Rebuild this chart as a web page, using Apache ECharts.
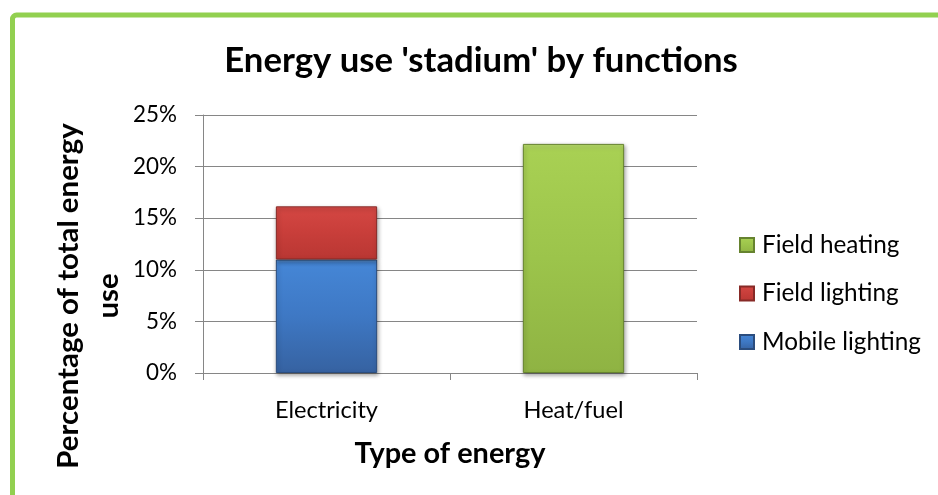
<!DOCTYPE html>
<html><head><meta charset="utf-8">
<script src="https://cdn.jsdelivr.net/npm/echarts@6/dist/echarts.min.js"></script>
<style>html,body{margin:0;padding:0;background:#fff}#c{width:938px;height:495px}</style>
</head><body><div id="c"></div>
<script>
// ---- data ----
const categories = ['Electricity', 'Heat/fuel'];
const mobileLighting = [11.0, null];
const fieldLighting = [5.15, null];
const fieldHeating = [null, 22.2];
const yMin = 0, yMax = 25, yInterval = 5;
const legendOrder = ['Field heating', 'Field lighting', 'Mobile lighting'];
const titleText = "Energy use 'stadium' by functions";
const xTitle = 'Type of energy';
const yTitleLines = ['Percentage of total energy', 'use'];

// ---- font sizing helper ----
const FONT = 'Lato';
const ctx = document.createElement('canvas').getContext('2d');
function fit(text, weight, target) {
  ctx.font = weight + ' 100px ' + FONT;
  return +(100 * target / ctx.measureText(text).width).toFixed(1);
}
const fsTitle = fit(titleText, 'bold', 513);
const fsTick = fit('25%', 'normal', 44);
const fsCat = fit('Electricity', 'normal', 103);
const fsXName = fit(xTitle, 'bold', 191);
const fsYName = fit(yTitleLines[0], 'bold', 345);
const fsLegend = fit('Mobile lighting', 'normal', 159);

const G = echarts.graphic.LinearGradient;
function grad(c0, c1, c2, c3) {
  return new G(0, 0, 0, 1, [{offset: 0, color: c0}, {offset: 0.03, color: c1}, {offset: 0.5, color: c2}, {offset: 1, color: c3}]);
}
const axisGray = '#868686';
const shadow = {shadowBlur: 4, shadowColor: 'rgba(0,0,0,0.35)', shadowOffsetX: 1, shadowOffsetY: 2};

const chart = echarts.init(document.getElementById('c'), null, {renderer: 'canvas'});
chart.setOption({
  animation: false,
  backgroundColor: '#fff',
  title: {
    text: titleText, left: 481, top: 61, padding: 0,
    textAlign: 'center', textVerticalAlign: 'middle',
    textStyle: {fontFamily: FONT, fontWeight: 'bold', fontSize: fsTitle, color: '#000'}
  },
  legend: {
    data: legendOrder, orient: 'vertical', left: 739, top: 233, padding: 0,
    itemWidth: 14, itemHeight: 14, itemGap: 24.5, selectedMode: false,
    icon: 'rect',
    textStyle: {fontFamily: FONT, fontSize: fsLegend, color: '#000', lineHeight: 24, padding: [0, 0, 0, 3]}
  },
  grid: {left: 203, right: 241, top: 115, bottom: 122},
  xAxis: {
    type: 'category', data: categories,
    axisLine: {lineStyle: {color: axisGray, width: 1}},
    axisTick: {show: true, length: 7, lineStyle: {color: axisGray}},
    axisLabel: {margin: 25, fontFamily: FONT, fontSize: fsCat, color: '#000'},
    name: xTitle, nameLocation: 'middle', nameGap: 81,
    nameTextStyle: {fontFamily: FONT, fontWeight: 'bold', fontSize: fsXName, color: '#000', verticalAlign: 'middle'}
  },
  yAxis: {
    type: 'value', min: yMin, max: yMax, interval: yInterval,
    axisLine: {show: true, lineStyle: {color: axisGray, width: 1}},
    axisTick: {show: true, length: 8, lineStyle: {color: axisGray}},
    axisLabel: {margin: 26, formatter: '{value}%', fontFamily: FONT, fontSize: fsTick, color: '#000'},
    splitLine: {lineStyle: {color: axisGray, width: 1}}
  },
  series: [
    {name: 'Mobile lighting', type: 'bar', stack: 'total', barWidth: '41%', data: mobileLighting,
     itemStyle: Object.assign({color: grad('#6aa8ee', '#4586d6', '#3e78c4', '#3662a1'), borderColor: '#2b4d7e', borderWidth: 1}, shadow)},
    {name: 'Field lighting', type: 'bar', stack: 'total', barWidth: '41%', data: fieldLighting,
     itemStyle: Object.assign({color: grad('#e46a66', '#d44743', '#c83e3a', '#b93733'), borderColor: '#872a27', borderWidth: 1}, shadow)},
    {name: 'Field heating', type: 'bar', stack: 'total', barWidth: '41%', data: fieldHeating,
     itemStyle: Object.assign({color: grad('#b8dc6c', '#a8d053', '#9cc44b', '#8fb343'), borderColor: '#66832f', borderWidth: 1}, shadow)}
  ],
  graphic: [
    {type: 'rect', z: 100, silent: true,
     shape: {x: 12.5, y: 15, width: 1000, height: 600, r: 4},
     style: {fill: 'none', stroke: '#92d050', lineWidth: 5}},
    {type: 'text', x: 89, y: 296, rotation: Math.PI / 2,
     style: {text: yTitleLines.join('\n'), fontFamily: FONT, fontWeight: 'bold', fontSize: fsYName,
             fill: '#000', textAlign: 'center', textVerticalAlign: 'middle', lineHeight: 40}}
  ]
});
</script></body></html>
